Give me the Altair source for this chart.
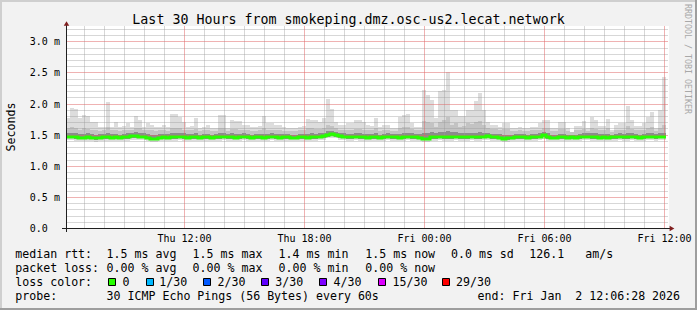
import altair as alt
import pandas as pd

# ---------------- data ----------------
ping_max = [
 1.77,1.93,1.91,1.77,1.82,1.80,1.70,1.70,1.63,1.63,
 2.02,1.63,1.71,1.63,1.64,1.68,1.63,1.80,1.74,1.63,
 1.68,1.66,1.62,1.63,1.65,1.63,1.83,1.84,1.79,1.71,
 1.63,1.64,1.77,1.60,1.63,1.65,1.60,1.61,1.82,1.81,
 1.60,1.73,1.72,1.72,1.66,1.66,1.63,1.62,1.64,1.80,
 1.68,1.68,1.65,1.65,1.62,1.60,1.61,1.61,1.62,1.64,
 1.75,1.74,1.74,1.71,1.77,2.08,1.91,1.71,1.66,1.66,
 1.68,1.68,1.74,1.74,1.70,1.66,1.64,1.77,1.62,1.65,
 1.65,1.61,1.61,1.78,1.82,1.84,1.68,1.63,1.63,2.22,
 2.14,2.05,1.77,2.20,2.22,2.50,1.90,1.90,1.80,1.80,
 1.90,1.90,2.04,2.17,1.90,1.71,1.66,1.66,1.62,1.69,
 1.69,1.60,1.60,1.62,1.61,1.61,1.63,1.63,1.69,1.74,
 1.74,1.61,1.61,1.70,1.70,1.61,1.55,1.64,1.64,1.72,
 1.61,1.79,1.74,1.64,1.64,1.75,1.58,1.65,1.69,1.69,
 1.96,1.74,1.64,1.64,1.69,1.79,1.87,1.61,1.90,2.43]
ping_p90 = [
 1.60,1.62,1.61,1.58,1.60,1.59,1.57,1.58,1.56,1.57,
 1.62,1.57,1.58,1.56,1.57,1.58,1.57,1.61,1.60,1.57,
 1.58,1.57,1.56,1.57,1.57,1.56,1.60,1.61,1.60,1.58,
 1.57,1.57,1.59,1.56,1.57,1.57,1.56,1.56,1.60,1.60,
 1.56,1.59,1.59,1.58,1.57,1.57,1.56,1.56,1.57,1.60,
 1.58,1.58,1.57,1.57,1.56,1.56,1.56,1.56,1.57,1.57,
 1.60,1.60,1.59,1.59,1.61,1.66,1.64,1.60,1.58,1.57,
 1.58,1.58,1.59,1.59,1.58,1.57,1.57,1.60,1.56,1.57,
 1.57,1.56,1.56,1.60,1.62,1.63,1.59,1.57,1.58,1.72,
 1.70,1.68,1.62,1.70,1.74,1.78,1.66,1.68,1.63,1.64,
 1.68,1.67,1.70,1.72,1.66,1.61,1.59,1.59,1.57,1.59,
 1.59,1.56,1.56,1.57,1.56,1.56,1.57,1.57,1.58,1.60,
 1.60,1.56,1.56,1.59,1.59,1.56,1.54,1.57,1.57,1.59,
 1.56,1.60,1.59,1.57,1.57,1.60,1.55,1.57,1.58,1.58,
 1.64,1.59,1.57,1.57,1.58,1.60,1.62,1.56,1.61,1.66]
ping_p75 = [
 1.52,1.53,1.52,1.51,1.51,1.52,1.51,1.50,1.51,1.51,
 1.52,1.51,1.51,1.50,1.51,1.52,1.53,1.54,1.53,1.52,
 1.51,1.50,1.50,1.51,1.51,1.51,1.52,1.52,1.53,1.52,
 1.51,1.51,1.52,1.50,1.51,1.51,1.50,1.51,1.52,1.52,
 1.51,1.52,1.51,1.51,1.52,1.51,1.50,1.51,1.51,1.51,
 1.51,1.52,1.51,1.51,1.51,1.51,1.50,1.50,1.51,1.51,
 1.51,1.52,1.51,1.52,1.53,1.56,1.56,1.55,1.53,1.52,
 1.51,1.51,1.52,1.52,1.51,1.51,1.51,1.52,1.50,1.51,
 1.52,1.51,1.51,1.51,1.52,1.53,1.52,1.51,1.51,1.52,
 1.53,1.54,1.52,1.55,1.55,1.56,1.54,1.54,1.52,1.52,
 1.53,1.53,1.53,1.54,1.53,1.53,1.51,1.51,1.51,1.50,
 1.50,1.50,1.51,1.51,1.51,1.50,1.51,1.51,1.52,1.54,
 1.52,1.50,1.50,1.51,1.51,1.50,1.50,1.50,1.51,1.52,
 1.52,1.52,1.52,1.51,1.51,1.51,1.50,1.51,1.52,1.51,
 1.53,1.52,1.51,1.50,1.51,1.52,1.53,1.51,1.52,1.53]
median_rtt = [
 1.47,1.47,1.46,1.45,1.45,1.46,1.45,1.44,1.45,1.46,
 1.46,1.45,1.46,1.45,1.46,1.46,1.48,1.48,1.47,1.47,
 1.45,1.43,1.43,1.45,1.46,1.45,1.46,1.46,1.47,1.46,
 1.45,1.46,1.46,1.45,1.46,1.46,1.45,1.46,1.46,1.47,
 1.46,1.46,1.45,1.46,1.47,1.46,1.45,1.46,1.46,1.45,
 1.46,1.47,1.46,1.45,1.46,1.46,1.45,1.45,1.46,1.46,
 1.45,1.46,1.46,1.47,1.48,1.50,1.51,1.50,1.48,1.47,
 1.46,1.46,1.47,1.46,1.46,1.45,1.46,1.46,1.45,1.46,
 1.47,1.46,1.46,1.45,1.46,1.47,1.46,1.46,1.45,1.43,
 1.43,1.46,1.46,1.47,1.46,1.46,1.46,1.47,1.46,1.46,
 1.46,1.47,1.46,1.46,1.47,1.48,1.46,1.46,1.45,1.43,
 1.44,1.45,1.46,1.46,1.46,1.45,1.46,1.46,1.47,1.49,
 1.46,1.45,1.45,1.46,1.46,1.45,1.46,1.45,1.46,1.47,
 1.47,1.46,1.46,1.45,1.46,1.45,1.46,1.46,1.47,1.46,
 1.46,1.47,1.46,1.45,1.46,1.47,1.47,1.46,1.47,1.47]
ping_p25 = [
 1.44,1.44,1.43,1.43,1.43,1.43,1.43,1.42,1.43,1.43,
 1.43,1.43,1.43,1.43,1.43,1.43,1.45,1.45,1.44,1.44,
 1.43,1.41,1.41,1.43,1.43,1.43,1.43,1.43,1.44,1.43,
 1.43,1.43,1.43,1.43,1.43,1.43,1.43,1.43,1.43,1.44,
 1.43,1.43,1.43,1.43,1.44,1.43,1.43,1.43,1.43,1.43,
 1.43,1.44,1.43,1.43,1.43,1.43,1.43,1.43,1.43,1.43,
 1.43,1.43,1.43,1.44,1.45,1.47,1.48,1.47,1.45,1.44,
 1.43,1.43,1.44,1.43,1.43,1.43,1.43,1.43,1.43,1.43,
 1.44,1.43,1.43,1.43,1.43,1.44,1.43,1.43,1.43,1.41,
 1.41,1.43,1.43,1.44,1.43,1.43,1.43,1.44,1.43,1.43,
 1.43,1.44,1.43,1.43,1.44,1.45,1.43,1.43,1.43,1.41,
 1.42,1.43,1.43,1.43,1.43,1.43,1.43,1.43,1.44,1.46,
 1.43,1.43,1.43,1.43,1.43,1.43,1.43,1.43,1.43,1.44,
 1.44,1.43,1.43,1.43,1.43,1.43,1.43,1.43,1.44,1.43,
 1.43,1.44,1.43,1.43,1.43,1.44,1.44,1.43,1.44,1.44]
ping_min = [
 1.41,1.41,1.40,1.40,1.40,1.40,1.40,1.39,1.40,1.40,
 1.40,1.40,1.40,1.40,1.40,1.40,1.42,1.42,1.41,1.41,
 1.40,1.38,1.38,1.40,1.40,1.40,1.40,1.40,1.41,1.40,
 1.40,1.40,1.40,1.40,1.40,1.40,1.40,1.40,1.40,1.41,
 1.40,1.40,1.40,1.40,1.41,1.40,1.40,1.40,1.40,1.40,
 1.40,1.41,1.40,1.40,1.40,1.40,1.40,1.40,1.40,1.40,
 1.40,1.40,1.40,1.41,1.42,1.44,1.45,1.44,1.42,1.41,
 1.40,1.40,1.41,1.40,1.40,1.40,1.40,1.40,1.40,1.40,
 1.41,1.40,1.40,1.40,1.40,1.41,1.40,1.40,1.40,1.38,
 1.38,1.40,1.40,1.41,1.40,1.40,1.40,1.41,1.40,1.40,
 1.40,1.41,1.40,1.40,1.41,1.42,1.40,1.40,1.40,1.38,
 1.39,1.40,1.40,1.40,1.40,1.40,1.40,1.40,1.41,1.43,
 1.40,1.40,1.40,1.40,1.40,1.40,1.40,1.40,1.40,1.41,
 1.41,1.40,1.40,1.40,1.40,1.40,1.40,1.40,1.41,1.40,
 1.40,1.41,1.40,1.40,1.40,1.41,1.41,1.40,1.41,1.41]

y_major = [0.5, 1.0, 1.5, 2.0, 2.5, 3.0]
y_minor = [0.1, 0.2, 0.3, 0.4, 0.6, 0.7, 0.8, 0.9, 1.1, 1.2, 1.3, 1.4,
           1.6, 1.7, 1.8, 1.9, 2.1, 2.2, 2.3, 2.4, 2.6, 2.7, 2.8, 2.9, 3.1, 3.2]
y_labels = [0.0, 0.5, 1.0, 1.5, 2.0, 2.5, 3.0]
x_major = ["2026-01-01T12:00:00Z", "2026-01-01T18:00:00Z", "2026-01-02T00:00:00Z",
           "2026-01-02T06:00:00Z", "2026-01-02T12:00:00Z"]
x_minor = ["2026-01-01T%02d:00:00Z" % h for h in [7, 8, 9, 10, 11, 13, 14, 15, 16, 17, 19, 20, 21, 22, 23]] + \
          ["2026-01-02T%02d:00:00Z" % h for h in [1, 2, 3, 4, 5, 7, 8, 9, 10, 11]]

title_text = "Last 30 Hours from smokeping.dmz.osc-us2.lecat.network"
rtt_items = ["1.5 ms avg", "1.5 ms max", "1.4 ms min", "1.5 ms now", "0.0 ms sd", "126.1", "am/s"]
loss_items = ["0.00 % avg", "0.00 % max", "0.00 % min", "0.00 % now"]
loss_labels = ["0", "1/30", "2/30", "3/30", "4/30", "15/30", "29/30"]
loss_colors = ["#26ff00", "#00b8ff", "#0059ff", "#5e00ff", "#7e00ff", "#dd00ff", "#ff0000"]
probe_text = "30 ICMP Echo Pings (56 Bytes) every 60s"
end_text = "end: Fri Jan\u00a0\u00a02 12:06:28 2026"

# ---------------- build ----------------
N = len(median_rtt)
edges = pd.date_range("2026-01-01 06:06:28", periods=N + 1, freq="12min")
iso = [t.strftime("%Y-%m-%dT%H:%M:%SZ") for t in edges]

smoke = pd.DataFrame({"t0": iso[:-1], "t1": iso[1:], "mn": ping_min, "p25": ping_p25,
                      "p75": ping_p75, "p90": ping_p90, "mx": ping_max})
med = pd.DataFrame({"t": iso, "m": median_rtt + [median_rtt[-1]]})

FONT = "DejaVu Sans Mono"
W, H = 603, 202

xs = alt.Scale(type="utc",
               domain=[alt.DateTime(year=2026, month=1, date=1, hours=6, minutes=6, seconds=28, utc=True),
                       alt.DateTime(year=2026, month=1, date=2, hours=12, minutes=6, seconds=28, utc=True)],
               range=[0, 600], round=True)
ys = alt.Scale(domain=[0, 3.215], range=[H, 2], round=True, nice=False, zero=False)

X_AX = alt.Axis(values=[alt.DateTime(year=2026, month=1, date=d, hours=h, utc=True)
                        for d, h in [(1, 12), (1, 18), (2, 0), (2, 6), (2, 12)]],
                labelExpr="utcFormat(datum.value, '%a %H:%M')", grid=False, domain=False,
                ticks=False, tickSize=0, labelPadding=13, labelBaseline="alphabetic",
                labelAlign="center", labelFlush=False, labelOverlap=False, labelBound=False,
                labelFont=FONT, labelFontSize=10, labelColor="#000000", title=None)
Y_AX = alt.Axis(values=y_labels,
                labelExpr="datum.value == 0 ? '0.0' : format(datum.value, '.1f') + ' m'",
                grid=False, domain=False, ticks=False, tickSize=0, labelAlign="left",
                labelPadding=36.7, labelBaseline="middle", labelFont=FONT, labelFontSize=10,
                labelColor="#000000", labelOverlap=False, labelFlush=False, title=None)

one = pd.DataFrame({"a": [0]})
layers = []

# smoke
for lo, hi, col in [("mn", "mx", "#dddddd"), ("p25", "p90", "#c3c3c3"), ("p25", "p75", "#8c8c8c")]:
    layers.append(alt.Chart(smoke).mark_rect(color=col).encode(
        x=alt.X("t0:T", scale=xs, axis=X_AX), x2="t1:T",
        y=alt.Y(f"{lo}:Q", scale=ys, axis=Y_AX), y2=f"{hi}:Q"))

# grid lines (light, solid)
MINC, MINO = "#9a9a9a", 0.4
MAJC, MAJO = "#e06666", 0.5
layers.append(alt.Chart(pd.DataFrame({"v": y_minor})).mark_rule(
    color=MINC, opacity=MINO, strokeWidth=1, yOffset=0.5).encode(
    y=alt.Y("v:Q", scale=ys, axis=Y_AX), x=alt.value(0), x2=alt.value(602)))
layers.append(alt.Chart(pd.DataFrame({"t": x_minor})).mark_rule(
    color=MINC, opacity=MINO, strokeWidth=1, xOffset=0.5).encode(
    x=alt.X("t:T", scale=xs, axis=X_AX), y=alt.value(0), y2=alt.value(H)))
layers.append(alt.Chart(pd.DataFrame({"v": y_major})).mark_rule(
    color=MAJC, opacity=MAJO, strokeWidth=1, yOffset=0.5).encode(
    y=alt.Y("v:Q", scale=ys, axis=Y_AX), x=alt.value(0), x2=alt.value(602)))
layers.append(alt.Chart(pd.DataFrame({"t": x_major})).mark_rule(
    color=MAJC, opacity=MAJO, strokeWidth=1, xOffset=0.5).encode(
    x=alt.X("t:T", scale=xs, axis=X_AX), y=alt.value(0), y2=alt.value(H)))

# median line
layers.append(alt.Chart(med).mark_line(color=loss_colors[0], strokeWidth=3,
                                       interpolate="step-after").encode(
    x=alt.X("t:T", scale=xs, axis=X_AX), y=alt.Y("m:Q", scale=ys, axis=Y_AX)))

# axes lines and arrows
AXC = "#1f1f1f"
ARC = "#801f1f"
layers.append(alt.Chart(one).mark_rule(color=AXC, strokeWidth=1).encode(
    x=alt.value(-4), x2=alt.value(605), y=alt.value(H + 0.5)))
layers.append(alt.Chart(one).mark_rule(color=AXC, strokeWidth=1).encode(
    x=alt.value(0.5), y=alt.value(H + 4), y2=alt.value(-3)))
layers.append(alt.Chart(one).mark_point(shape="triangle-right", filled=True, color=ARC,
                                        size=30, opacity=1).encode(
    x=alt.value(606), y=alt.value(H + 0.5)))
layers.append(alt.Chart(one).mark_point(shape="triangle-up", filled=True, color=ARC,
                                        size=30, opacity=1).encode(
    x=alt.value(0.5), y=alt.value(-2.5)))

# frame shading
for x0, x1, y0, y1, col in [(-66, 631, -26, -24, "#cfcfcf"), (-66, -64, -26, 284, "#cfcfcf"),
                            (-66, 631, 282, 284, "#9e9e9e"), (629, 631, -26, 284, "#9e9e9e")]:
    layers.append(alt.Chart(one).mark_rect(color=col).encode(
        x=alt.value(x0), x2=alt.value(x1), y=alt.value(y0), y2=alt.value(y1)))


def txt(s, x, y, size=11.6, align="left", angle=0, color="#000000", baseline="alphabetic"):
    return alt.Chart(one).mark_text(text=s, font=FONT, fontSize=size, align=align, angle=angle,
                                    color=color, baseline=baseline).encode(
        x=alt.value(x), y=alt.value(y))


# title and side texts
layers.append(txt(title_text, 282.5, -1.7, size=13.3, align="center"))
layers.append(txt("Seconds", -51, 101, size=11.6, align="center", angle=270))
layers.append(txt("RRDTOOL / TOBI OETIKER", 619, 33, size=8.3, align="center", angle=90,
                  color="#a8a8a8"))

# footer
ROWS = [232, 246, 260, 274]
COLX = [40.6, 126.6, 212.6, 299.3, 385.0, 463.3, 519.3]
layers.append(txt("median rtt:", -50.7, ROWS[0]))
for s, x in zip(rtt_items, COLX):
    layers.append(txt(s, x, ROWS[0]))
layers.append(txt("packet loss:", -50.7, ROWS[1]))
for s, x in zip(loss_items, COLX):
    layers.append(txt(s, x, ROWS[1]))
layers.append(txt("loss color:", -50.7, ROWS[2]))
SQ = [108, 146, 203, 261, 319, 378, 442]
LX = [56.6, 93.3, 151.6, 209.3, 267.6, 326.6, 390.0]
for lab, col, sq, lx in zip(loss_labels, loss_colors, SQ, LX):
    layers.append(alt.Chart(one).mark_rect(color=col, stroke="#000000", strokeWidth=1).encode(
        x=alt.value(sq - 66 + 0.5), x2=alt.value(sq - 66 + 7.5),
        y=alt.value(252.5), y2=alt.value(259.5)))
    layers.append(txt(lab, lx, ROWS[2]))
layers.append(txt("probe:", -50.7, ROWS[3]))
layers.append(txt(probe_text, 40.6, ROWS[3]))
layers.append(txt(end_text, 411.6, ROWS[3]))

chart = alt.layer(*layers).properties(
    width=W, height=H,
    autosize=alt.AutoSizeParams(type="none"),
    padding={"left": 66, "top": 26, "right": 697 - 66 - W, "bottom": 310 - 26 - H},
    background="#f2f2f2",
).configure_view(fill="#ffffff", stroke=None)

chart.save("out.html", embed_options={"renderer": "svg", "actions": False})
